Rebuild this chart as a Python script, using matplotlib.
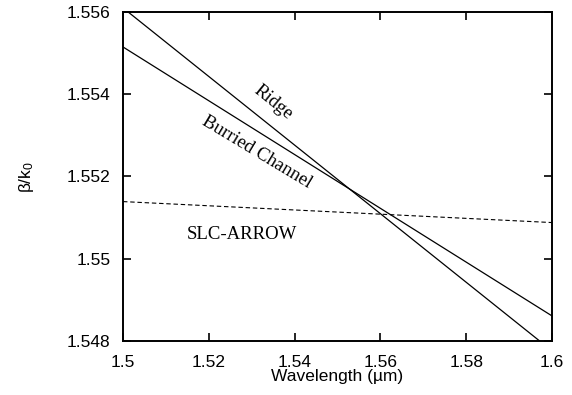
import matplotlib
matplotlib.use("Agg")
import matplotlib.pyplot as plt

# data (straight lines, end points)
wavelength = [1.5, 1.6]
ridge = [1.55610, 1.54776]
burried = [1.55515, 1.54861]
slc_arrow = [1.55139, 1.55088]

xticks = [1.5, 1.52, 1.54, 1.56, 1.58, 1.6]
xticklabels = ["1.5", "1.52", "1.54", "1.56", "1.58", "1.6"]
yticks = [1.548, 1.55, 1.552, 1.554, 1.556]
yticklabels = ["1.548", "1.55", "1.552", "1.554", "1.556"]

plt.rcParams["font.family"] = ["Liberation Sans", "DejaVu Sans"]

fig = plt.figure(figsize=(5.72, 3.95), dpi=100)
ax = fig.add_axes([123 / 572, 1 - 341 / 395, 429 / 572, 329 / 395])

ax.plot(wavelength, ridge, color="black", lw=0.9)
ax.plot(wavelength, burried, color="black", lw=0.9)
ax.plot(wavelength, slc_arrow, color="black", lw=0.8, linestyle=(0, (4, 2.5)))

ax.set_xlim(1.5, 1.6)
ax.set_ylim(1.548, 1.556)
ax.set_xticks(xticks)
ax.set_xticklabels(xticklabels)
ax.set_yticks(yticks)
ax.set_yticklabels(yticklabels)
ax.tick_params(direction="in", top=True, right=True, length=6, width=1.2,
               labelsize=12.5)
ax.tick_params(axis="y", pad=9)
ax.tick_params(axis="x", pad=10)
for s in ax.spines.values():
    s.set_linewidth(1.4)

ax.set_xlabel("Wavelength (\u00b5m)", fontsize=12.5, labelpad=-1)
ax.set_ylabel(r"$\mathregular{\beta/k_0}$", fontsize=12.5, labelpad=22)

serif = ["Liberation Serif", "DejaVu Serif"]
ax.text(1.5350, 1.55379, "Ridge", family=serif, fontsize=13.5, rotation=-39,
        ha="center", va="center")
ax.text(1.5312, 1.55260, "Burried Channel", family=serif, fontsize=13.5,
        rotation=-31, ha="center", va="center")
ax.text(1.5277, 1.55058, "SLC-ARROW", family=serif, fontsize=13.5,
        ha="center", va="center")

fig.savefig("out.png", dpi=100)
